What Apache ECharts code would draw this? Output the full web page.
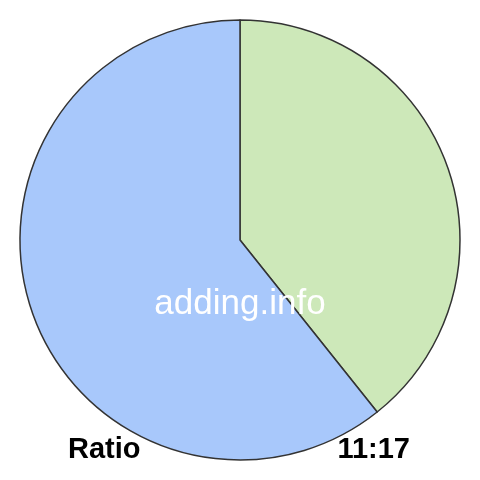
<!DOCTYPE html>
<html>
<head>
<meta charset="utf-8">
<script src="https://cdn.jsdelivr.net/npm/echarts@6/dist/echarts.min.js"></script>
<style>
html,body{margin:0;padding:0;background:#fff;}
#main{width:480px;height:480px;}
</style>
</head>
<body>
<div id="main"></div>
<script>
// ratio parts, green slice first (clockwise from top)
var parts = [11, 17];
var partNames = ['a', 'b'];
var partColors = ['#cde8b9', '#a8c8fb'];

var myChart = echarts.init(document.getElementById('main'));
var pieData = [];
for (var i = 0; i < parts.length; i++) {
    pieData.push({ value: parts[i], name: partNames[i], itemStyle: { color: partColors[i] } });
}
var option = {
    animation: false,
    graphic: [
        { type: 'text', left: 68, top: 435, style: { text: 'Ratio', fill: '#000', font: 'bold 29px "Liberation Sans", Arial, sans-serif' } },
        { type: 'text', right: 70, top: 435, style: { text: parts.join(':'), fill: '#000', font: 'bold 29px "Liberation Sans", Arial, sans-serif' } },
        { type: 'text', left: 'center', top: 287, z: 100, style: { text: 'adding.info', fill: '#fff', font: '35px "Liberation Sans", Arial, sans-serif' } }
    ],
    series: [
        {
            type: 'pie',
            center: [240, 240],
            radius: [0, 220],
            startAngle: 90,
            clockwise: true,
            label: { show: false },
            labelLine: { show: false },
            emphasis: { disabled: true },
            itemStyle: { borderColor: '#333', borderWidth: 1.5 },
            data: pieData
        }
    ]
};
myChart.setOption(option);
</script>
</body>
</html>
